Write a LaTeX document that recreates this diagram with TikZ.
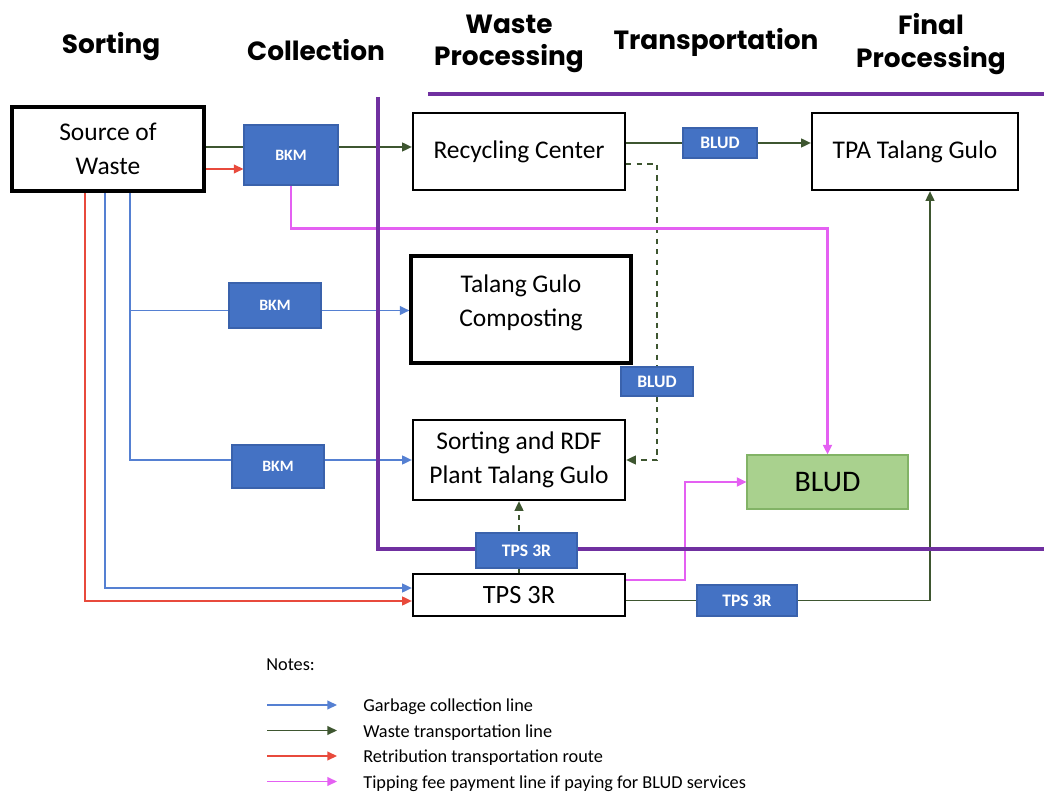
\documentclass[tikz,border=0pt]{standalone}
\usepackage{fontspec}
\setmainfont{Carlito}
\newfontfamily\headfont{Poppins}
\usetikzlibrary{arrows.meta,backgrounds}

\definecolor{bkmblue}{HTML}{4472C4}
\definecolor{bkmedge}{HTML}{3A62AC}
\definecolor{collblue}{HTML}{5580D2}
\definecolor{transgreen}{HTML}{4E6B3C}
\definecolor{retred}{HTML}{E84A3C}
\definecolor{paypink}{RGB}{228,96,242}
\definecolor{framepurple}{HTML}{7030A0}
\definecolor{bludfill}{HTML}{A9D18E}
\definecolor{bludedge}{HTML}{82B366}

\begin{document}
\begin{tikzpicture}[
  x=0.02cm, y=-0.02cm, >={Triangle[length=5.5pt,width=5pt]},
  sz/.style 2 args={minimum width=#1*0.02cm, minimum height=#2*0.02cm},
  box/.style={draw=black, line width=1.3pt, fill=white, align=center, inner sep=2pt,
              font=\fontsize{14.5}{19}\selectfont},
  tag/.style={draw=bkmedge, line width=0.6pt, fill=bkmblue, text=white, inner sep=1pt,
              font=\bfseries\fontsize{9}{10}\selectfont},
  head/.style={align=center, font=\headfont\bfseries\fontsize{15}{18.5}\selectfont},
  note/.style={font=\fontsize{10.4}{12}\selectfont, inner sep=0pt},
  cl/.style={->, line width=0.9pt, draw=collblue, color=collblue},
  tl/.style={->, line width=0.9pt, draw=transgreen, color=transgreen!80!black},
  rl/.style={->, line width=0.9pt, draw=retred, color=retred},
  pl/.style={->, line width=1.3pt, draw=paypink, color=paypink},
  frame/.style={line width=2.8pt, draw=framepurple},
]
\useasboundingbox (0,0) rectangle (1044,793);

% stage headings
\node[head] (hsort) at (111,47) {Sorting};
\node[head] (hcoll) at (316,50) {Collection};
\node[head] (hproc) at (509,44) {Waste\\Processing};
\node[head] (htran) at (716,42) {Transportation};
\node[head] (hfin)  at (931,44) {Final\\Processing};

% purple frame
\draw[frame] (428,94) -- (1044,94);
\draw[frame] (378,97) -- (378,549) -- (1044,549);

% main boxes
\node[box, sz={192}{84}, line width=1.8pt] (src) at (108,149) {Source of\\Waste};
\node[box, sz={212}{77}] (recyc) at (519,151.5) {Recycling Center};
\node[box, sz={206}{77}] (tpa) at (915,151.5) {TPA Talang Gulo};
\node[box, sz={220}{107}, line width=1.8pt] (compost) at (521,309.5) {};
\node[font=\fontsize{14.5}{19}\selectfont, align=center] (compostlbl) at (521,303) {Talang Gulo\\Composting};
\node[box, sz={212}{80}] (rdf) at (519,460) {Sorting and RDF\\Plant Talang Gulo};
\node[box, sz={212}{42}, font=\fontsize{15}{18}\selectfont] (tps) at (519,595) {TPS 3R};
\node[draw=bludedge, line width=0.6pt, fill=bludfill, sz={161}{54},
      font=\fontsize{17}{20}\selectfont] (blud) at (827.5,482) {BLUD};

% small tags
\node[tag, sz={94}{60}] (bkm1) at (291,155) {BKM};
\node[tag, sz={92}{45}] (bkm2) at (275,305.5) {BKM};
\node[tag, sz={92}{43}] (bkm3) at (278,466.5) {BKM};
\node[tag, sz={74}{30}, font=\bfseries\fontsize{10}{11}\selectfont] (bludA) at (720,143) {BLUD};
\node[tag, sz={72}{29}, font=\bfseries\fontsize{10}{11}\selectfont] (bludB) at (657,381.5) {BLUD};
\node[tag, sz={101}{35}, font=\bfseries\fontsize{10}{11}\selectfont] (tpsA) at (526.5,550.5) {TPS 3R};
\node[tag, sz={100}{31}, font=\bfseries\fontsize{10}{11}\selectfont] (tpsB) at (747,600.5) {TPS 3R};

\begin{scope}[on background layer]
% collection lines
\draw[cl] ([xshift=4.4mm]src.south) |- ([yshift=-0.2mm]compost.west);
\draw[cl] ([xshift=4.4mm]src.south) |- (rdf.west);
\draw[cl] ([xshift=-0.6mm]src.south) |- ([yshift=1.4mm]tps.west);
% retribution lines
\draw[rl] ([xshift=-4.6mm]src.south) |- ([yshift=-1.2mm]tps.west);
\draw[rl] ([yshift=-4mm]src.east) -- ([yshift=-4mm]src.east -| bkm1.west);
% transport lines
\draw[tl] ([yshift=0.4mm]src.east) -- ([yshift=0.4mm]src.east -| recyc.west);
\draw[tl] (recyc.east |- bludA) -- (bludA -| tpa.west);
\draw[tl, dashed] ([yshift=-2.5mm]recyc.east) -| (bludB.center) |- (rdf.east);
\draw[tl, dashed] (tps.north) -- (rdf.south);
\draw[tl] (tps.east |- tpsB) -| ([xshift=3mm]tpa.south);
% tipping fee lines
\draw[pl] (bkm1.south) -- ++(0,43) -| (blud.north);
\draw[pl] ([yshift=3mm]tps.east) -- ++(59,0) |- (blud.west);
\end{scope}

% notes
\node[note, anchor=west] (notes) at (266,665) {Notes:};
\foreach \s/\t [count=\i] in {cl/Garbage collection line, tl/Waste transportation line,
    rl/Retribution transportation route, pl/Tipping fee payment line if paying for BLUD services} {
  \node[note, anchor=west] (n\i) at (363,681.5+25.5*\i) {\t};
  \draw[\s, line width=0.8pt] (267,679.5+25.5*\i) -- (337,679.5+25.5*\i);
}
\end{tikzpicture}
\end{document}
